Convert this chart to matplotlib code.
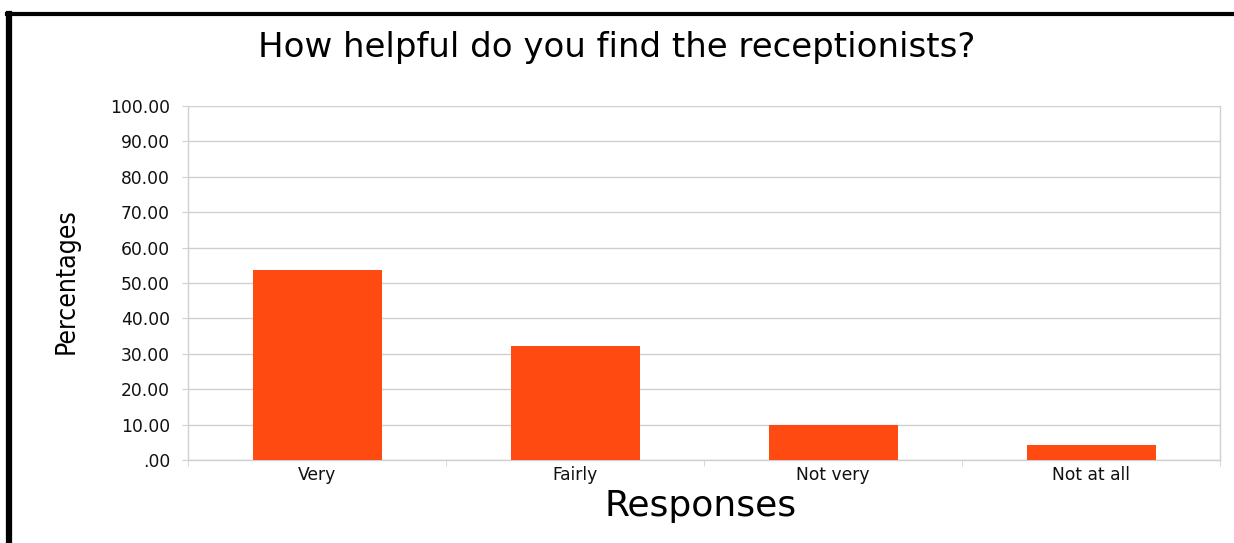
import matplotlib
matplotlib.use("Agg")
import matplotlib.pyplot as plt
from matplotlib.lines import Line2D

categories = ["Very", "Fairly", "Not very", "Not at all"]
percentages = [53.8, 32.1, 10.0, 4.2]
yticks = [0, 10, 20, 30, 40, 50, 60, 70, 80, 90, 100]
ytick_labels = [".00", "10.00", "20.00", "30.00", "40.00", "50.00",
                "60.00", "70.00", "80.00", "90.00", "100.00"]
title = "How helpful do you find the receptionists?"
xlabel = "Responses"
ylabel = "Percentages"

bar_color = "#FF4A12"
grid_color = "#D0D0D0"

fig = plt.figure(figsize=(12.34, 5.43), dpi=100)
fig.patch.set_facecolor("white")
ax = fig.add_axes([188/1234, 1-460/543, (1220-188)/1234, (460-106)/543])

x = list(range(len(categories)))
ax.bar(x, percentages, width=0.5, color=bar_color, zorder=3)
ax.set_xlim(-0.5, len(categories) - 0.5)
ax.set_ylim(0, 100)

ax.set_yticks(yticks)
ax.set_yticklabels(ytick_labels)
ax.set_xticks(x)
ax.set_xticklabels(categories)
for lab in ax.get_yticklabels() + ax.get_xticklabels():
    lab.set_fontfamily("DejaVu Sans")
    lab.set_fontsize(12.3)
    lab.set_color("#111111")
ax.tick_params(axis="x", length=0, pad=4)
ax.tick_params(axis="y", length=4.5, color=grid_color, pad=8.5)
# minor ticks between categories
ax.set_xticks([i + 0.5 for i in range(-1, len(categories))], minor=True)
ax.tick_params(axis="x", which="minor", length=4, color=grid_color)

ax.yaxis.grid(True, color=grid_color, linewidth=1, zorder=0)
ax.spines["top"].set_visible(False)
for s in ["left", "right", "bottom"]:
    ax.spines[s].set_color(grid_color)
    ax.spines[s].set_linewidth(1)

fig.text(617/1234, 1-47/543, title, ha="center", va="center", fontsize=24.5,
         family="DejaVu Sans")
fig.text(701/1234, 1-506/543, xlabel, ha="center", va="center", fontsize=26,
         family="DejaVu Sans")
fig.text(67/1234, 1-281/543, ylabel, ha="center", va="center", fontsize=19,
         rotation=90, family="DejaVu Sans", fontstretch="condensed")

# black frame lines (left and top)
fig.add_artist(Line2D([9/1234, 9/1234], [0, 1-13.5/543], color="black",
                      linewidth=4.5, transform=fig.transFigure))
fig.add_artist(Line2D([7/1234, 1], [1-13.5/543, 1-13.5/543], color="black",
                      linewidth=3, transform=fig.transFigure))

fig.savefig("out.png", dpi=100, facecolor="white")
